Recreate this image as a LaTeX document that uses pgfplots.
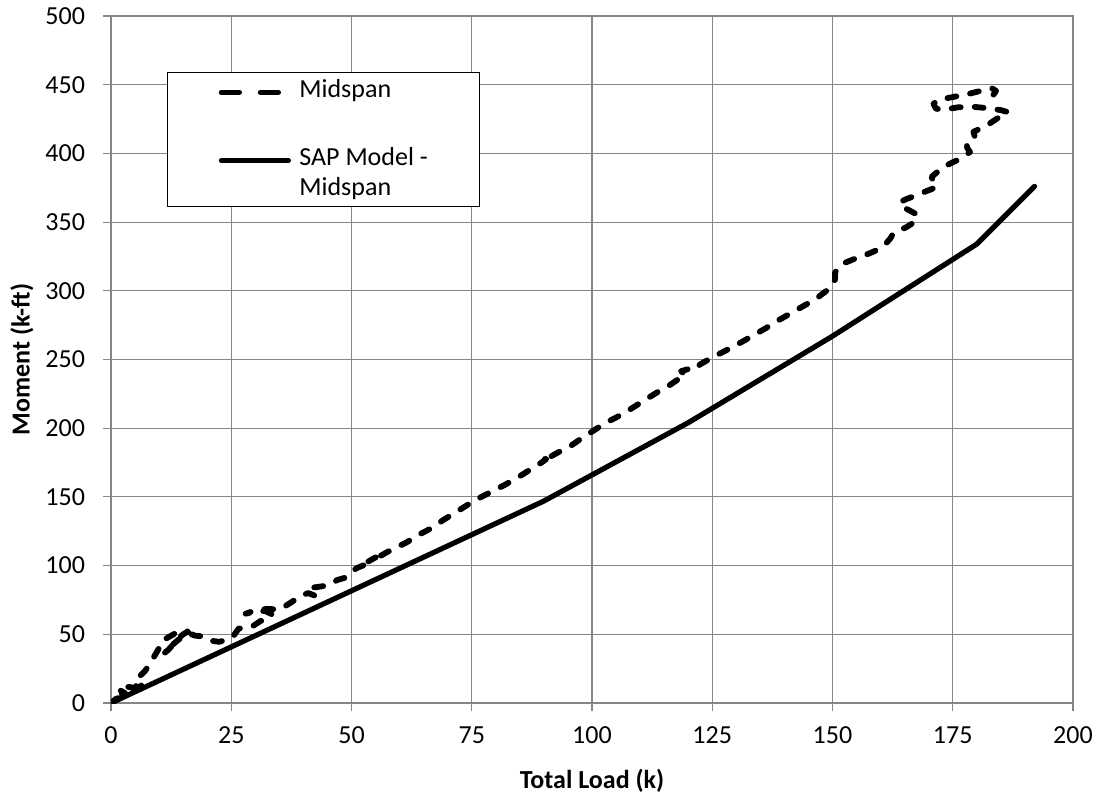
\documentclass[border=0pt]{standalone}
\usepackage{fontspec}
\setmainfont{Carlito}
\usepackage{pgfplots}
\usepackage{pgfplotstable}
\pgfplotsset{compat=1.18}
\definecolor{gridgray}{RGB}{134,134,134}

% Measured midspan moment against total load
\pgfplotstableread{
x y
0 0
1 3
2 4
1 6
3 7
2 9
4 8
5 11
3 12
5 13
6 10
6.5 15
5.5 18
7 23
8 28
9 34
10 40
10.5 45
12 48
13.5 51
15 53
16 52
15 50
14 47
13 43
12 39
11 36
12 40
14 46
16 51
17.5 49
19 48.5
20.5 45.5
22.5 44.5
24.5 46.5
25.5 49
26.5 54
28 55
29.5 56
31 59.5
33 62
33.5 64.5
32 67
30 66.5
28 65
30 67.5
32.5 68.5
35 68
36 70
38 74.5
39.5 78
41 80
42.5 78
43 82
42 84
44 85
46 87
47 89.5
48.5 91
49.5 94
51 98
53 101
54.5 104
55 106
53.5 103
55.5 106
57.5 110
59.5 113.5
61.5 117
64 122.5
66.5 127
69 133
72 139.5
74.5 145
77 150
79.5 154.5
82 159
84.5 164
87 169.5
89.5 175
90.5 177.5
89.5 178
91 178.5
93 182.5
95.5 187
98 193
100 197.5
102 202
104 206
106.5 210.5
108.5 215
111 220.5
113.5 226
116 231
118.5 237
119.5 239
118.5 241.5
120 243
121 242
122.5 246.5
125 251.5
127.5 256
129.5 259.5
131.5 263.5
133.5 267.5
136 272.5
138 277
140 281
142 285
144.5 290
146.5 294
148 298
149.5 302
150.5 308
150.5 313
151.5 318.5
153 321
155.5 324.5
157.5 327
159.5 330
161 334
162 338
162.6 341.6
165.4 346.4
167.5 351
167.3 356
166 358.5
164.5 361
164 364.5
165.5 367
167.5 369.5
169.5 372.5
171.7 375.5
171 379
170.6 383
172 387
173 390
175 393.5
176.5 396
178.6 401
178 404
177.9 407
179.6 412
179.3 415.7
181 418.5
182.7 421.8
184.8 426.7
186.5 430
185 431.5
182 433
179 434
176 433.5
173.5 432
171.5 432.5
171 436
172 439
175 441
178.6 443.6
181.4 446
183.1 447.5
184 445.5
183.4 442.4
}\midspan

% SAP model prediction at midspan
\pgfplotstableread{
x y
0 0
30 49
60 98
90 147
120 204
150 267
180 334
192 376
}\sapmodel

\begin{document}
\begin{tikzpicture}
\begin{axis}[
  at={(0,0)}, anchor=south west,
  scale only axis, width=481pt, height=343.5pt,
  xmin=0, xmax=200, ymin=0, ymax=500,
  xtick={0,25,...,200}, ytick={0,50,...,500},
  grid=major,
  major grid style={gridgray, line width=0.55pt},
  axis line style={gridgray, line width=0.55pt},
  tick style={gridgray, line width=0.55pt},
  tick align=outside, major tick length=4pt,
  tick pos=left,
  /pgf/number format/assume math mode=true,
  ticklabel style={font=\fontsize{13}{15}\selectfont},
  xticklabel style={yshift=-4.5pt},
  yticklabel style={xshift=-5.5pt},
  xlabel={Total Load (k)}, ylabel={Moment (k-ft)},
  label style={font=\fontsize{13}{15}\selectfont\bfseries},
  xlabel style={at={(axis description cs:0.5,-0.1135)}, anchor=center},
  ylabel style={at={(axis description cs:-0.0925,0.5)}, anchor=center, rotate=0},
  legend style={at={(0.0579,0.9188)}, anchor=north west, draw=black,
    line width=0.5pt, inner xsep=0pt, inner ysep=1.5pt, row sep=19pt,
    font=\fontsize{13}{15}\selectfont, cells={anchor=base west},
    nodes={text depth={}}},
  legend image code/.code={%
    \path (0pt,0pt) (61.5pt,0pt);
    \draw[#1] (25.8pt,0.25em) -- (59.3pt,0.25em);},
]
\addplot[black, line width=2.9pt, line cap=round, line join=round,
  dash pattern=on 4.5pt off 7pt,
  legend image post style={line width=2.6pt, dash pattern=on 9pt off 10.5pt}]
  table[x=x, y=y] {\midspan};
\addlegendentry{\parbox[t]{88pt}{Midspan}}
\addplot[black, line width=2.6pt, line cap=round, line join=round]
  table[x=x, y=y] {\sapmodel};
\addlegendentry{\parbox[t]{88pt}{SAP Model -\\Midspan}}
\end{axis}
\pgfresetboundingbox
\path[use as bounding box] (-55.5pt,-45.5pt) rectangle (496pt,351.5pt);
\end{tikzpicture}
\end{document}
